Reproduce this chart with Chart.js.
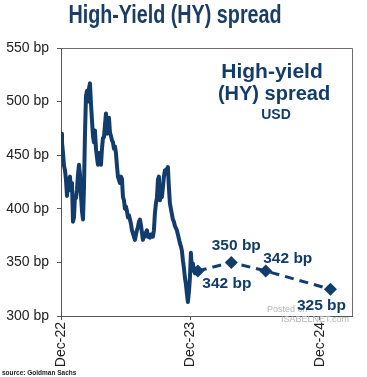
<!DOCTYPE html>
<html>
<head>
<meta charset="utf-8">
<script src="https://cdn.jsdelivr.net/npm/chart.js@4.4.1/dist/chart.umd.min.js"></script>
<style>
  html, body { margin: 0; padding: 0; background: #fff; }
  #wrap { width: 367px; height: 377px; position: relative; }
</style>
</head>
<body>
<div id="wrap"><canvas id="hyChart" width="367" height="377"></canvas></div>
<script>
// HY spread history (bp), Dec-22 .. mid Jan-24, evenly spaced observations
const histValues = [
    470, 462, 452, 440, 436, 427, 412, 428, 425, 430, 417, 424, 388, 392, 412, 410, 418, 432, 441, 432,
    412, 398, 390, 420, 470, 505, 510, 500, 512, 517, 498, 483, 468, 462, 473, 456, 448, 441, 452, 448,
    441, 456, 466, 467, 478, 489, 470, 478, 485, 471, 468, 464, 462, 456, 458, 452, 440, 430, 427, 424,
    430, 428, 411, 408, 400, 402, 398, 392, 394, 390, 386, 380, 377, 374, 371, 376, 380, 383, 388, 390,
    385, 378, 371, 376, 374, 378, 380, 374, 376, 373, 376, 374, 374, 380, 396, 405, 410, 427, 430, 408,
    412, 411, 420, 430, 436, 433, 437, 439, 420, 405, 400, 395, 390, 388, 384, 382, 380, 376, 372, 368,
    365, 361, 352, 345, 336, 330, 321, 313, 322, 335, 359, 343, 349, 342, 340, 344, 342, 342
];
const histEndMonth = 12.7; // months after Dec-22

// Goldman Sachs forecast path
const forecastMonths = [12.7, 15.8, 19.0, 25.0];
const forecastValues = [342, 350, 342, 325];
const forecastLabels = ['342 bp', '350 bp', '342 bp', '325 bp'];

// x ticks (months after Dec-22)
const xTickValues = [0, 12, 24];
const xTickLabels = ['Dec-22', 'Dec-23', 'Dec-24'];
const yTickValues = [300, 350, 400, 450, 500, 550];

// label offsets from each forecast marker (px)
const labelOffsets = [[29, 13], [5, -17], [22, -12], [-9, 17]];

const NAVY = '#123c6c';

document.addEventListener("DOMContentLoaded", function () {
    const histPoints = histValues.map((v, i) => ({
        x: i * histEndMonth / (histValues.length - 1),
        y: v
    }));
    const forecastPoints = forecastMonths.map((m, i) => ({ x: m, y: forecastValues[i] }));

    // texte, cadre, annotations
    const decorPlugin = {
        id: 'decor',
        afterDraw(chart) {
            const ctx = chart.ctx;
            const area = chart.chartArea;
            ctx.save();

            // box around plot
            ctx.strokeStyle = '#6d6d6d';
            ctx.lineWidth = 1;
            ctx.beginPath();
            ctx.moveTo(area.left, area.top + 0.5);
            ctx.lineTo(area.right + 0.5, area.top + 0.5);
            ctx.lineTo(area.right + 0.5, area.bottom);
            ctx.stroke();

            // title (condensed look)
            ctx.save();
            ctx.fillStyle = '#1a3d68';
            ctx.textAlign = 'center';
            ctx.textBaseline = 'middle';
            ctx.font = 'bold 25px "Liberation Sans", Arial';
            ctx.translate(175, 16);
            ctx.scale(0.79, 1);
            ctx.fillText('High-Yield (HY) spread', 0, 0);
            ctx.restore();

            // inner legend text
            ctx.fillStyle = NAVY;
            ctx.textAlign = 'center';
            ctx.textBaseline = 'middle';
            ctx.font = 'bold 21px "Liberation Sans", Arial';
            ctx.fillText('High-yield', 272, 72);
            ctx.font = 'bold 20px "Liberation Sans", Arial';
            ctx.fillText('(HY) spread', 274, 94);
            ctx.font = 'bold 14px "Liberation Sans", Arial';
            ctx.fillText('USD', 276, 115);

            // watermark
            ctx.fillStyle = '#b5b5b5';
            ctx.font = '9px "Liberation Sans", Arial';
            ctx.textAlign = 'left';
            ctx.fillText('Posted on', 267, 310);
            ctx.fillText('ISABELNET.com', 281, 320);

            // forecast labels
            const meta = chart.getDatasetMeta(1);
            ctx.fillStyle = NAVY;
            ctx.textAlign = 'center';
            ctx.font = 'bold 15.5px "Liberation Sans", Arial';
            meta.data.forEach((pt, i) => {
                const off = labelOffsets[i];
                ctx.fillText(forecastLabels[i], pt.x + off[0], pt.y + off[1]);
            });

            // source
            ctx.fillStyle = '#222';
            ctx.textAlign = 'left';
            ctx.font = 'bold 6.5px "Liberation Sans", Arial';
            ctx.fillText('source: Goldman Sachs', 2, 373);

            ctx.restore();
        }
    };

    const ctx = document.getElementById('hyChart').getContext('2d');
    new Chart(ctx, {
        type: 'line',
        data: {
            datasets: [
                {
                    label: 'HY spread',
                    data: histPoints,
                    borderColor: NAVY,
                    borderWidth: 4,
                    borderJoinStyle: 'round',
                    pointRadius: 0,
                    tension: 0
                },
                {
                    label: 'Forecast',
                    data: forecastPoints,
                    borderColor: NAVY,
                    backgroundColor: NAVY,
                    borderWidth: 3,
                    borderDash: [9, 6],
                    pointStyle: 'rectRot',
                    pointRadius: 6.5,
                    pointBorderWidth: 0,
                    tension: 0
                }
            ]
        },
        options: {
            responsive: false,
            animation: false,
            layout: { padding: { top: 48, right: 15, left: 0, bottom: 0 } },
            plugins: {
                legend: { display: false },
                tooltip: { enabled: false }
            },
            scales: {
                x: {
                    type: 'linear',
                    min: 0,
                    max: 27,
                    afterBuildTicks: (axis) => {
                        axis.ticks = xTickValues.map(v => ({ value: v }));
                    },
                    afterFit: (axis) => { axis.height = 61; },
                    ticks: {
                        autoSkip: false,
                        minRotation: 90,
                        maxRotation: 90,
                        padding: 2,
                        color: '#222',
                        font: { family: '"Liberation Sans", Arial', size: 14 },
                        callback: (v) => {
                            const k = xTickValues.indexOf(v);
                            return k >= 0 ? xTickLabels[k] : '';
                        }
                    },
                    grid: { drawOnChartArea: false, tickLength: 4, color: '#555' },
                    border: { color: '#555', width: 1 }
                },
                y: {
                    min: 300,
                    max: 550,
                    afterBuildTicks: (axis) => {
                        axis.ticks = yTickValues.map(v => ({ value: v }));
                    },
                    afterFit: (axis) => { axis.width = 61; },
                    ticks: {
                        padding: 8,
                        color: '#222',
                        font: { family: '"Liberation Sans", Arial', size: 14 },
                        callback: (v) => v + ' bp'
                    },
                    grid: { drawOnChartArea: false, tickLength: 4, color: '#555' },
                    border: { color: '#555', width: 1 }
                }
            }
        },
        plugins: [decorPlugin]
    });
});
</script>
</body>
</html>
